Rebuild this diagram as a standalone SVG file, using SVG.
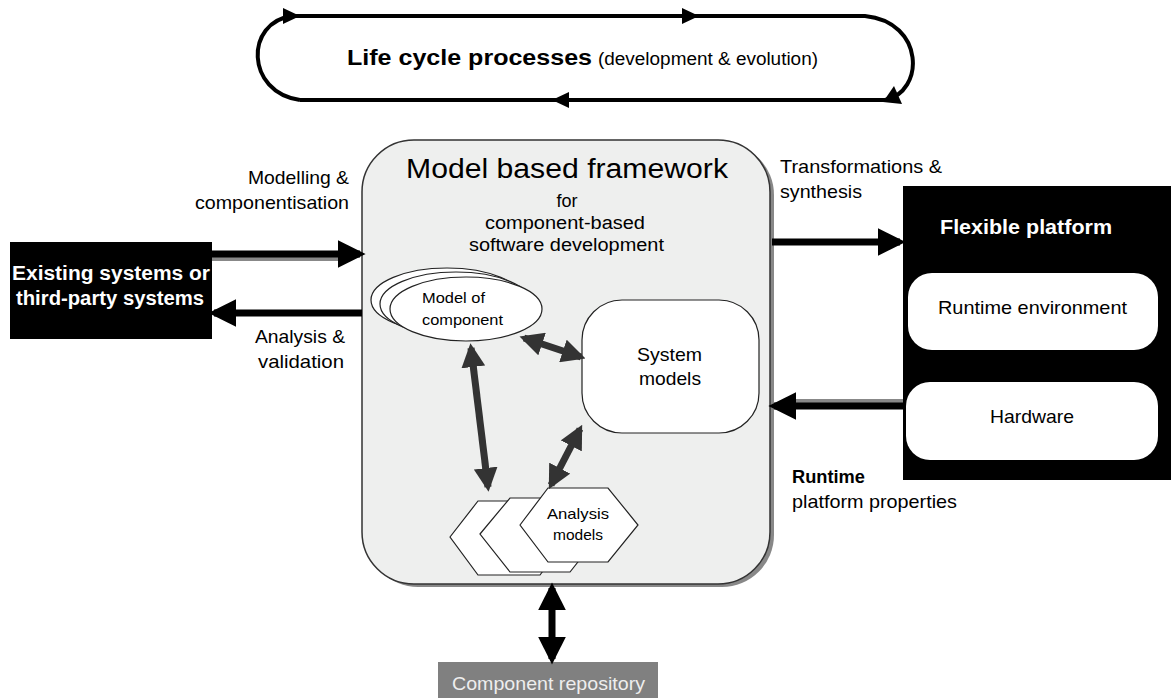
<svg xmlns="http://www.w3.org/2000/svg" width="1171" height="698" viewBox="0 0 1171 698">
<style>
text{font-family:"Liberation Sans",Arial,sans-serif;fill:#000}
.w{fill:#fff}
.lbl{font-size:18.5px}
.sm{font-size:15px}
.blk{fill:#000}
.wn{fill:#fff;stroke:#222;stroke-width:1.2}
.loop{fill:none;stroke:#000;stroke-width:4}
.thick{stroke:#000;stroke-width:7;fill:none}
.dbl{stroke:#333;stroke-width:7;fill:none}
</style>
<defs>
<marker id="ah" viewBox="0 0 10 10" refX="8" refY="5" markerWidth="4" markerHeight="4" orient="auto-start-reverse" markerUnits="strokeWidth"><path d="M0,0 L10,5 L0,10 z" fill="#000"/></marker>
<marker id="ahd" viewBox="0 0 10 10" refX="8" refY="5" markerWidth="3.4" markerHeight="3.4" orient="auto-start-reverse" markerUnits="strokeWidth"><path d="M0,0 L10,5 L0,10 z" fill="#333"/></marker>
</defs>

<g id="lifecycle">
<path class="loop" d="M300,100 C245,92 245,22 292,16"/>
<path class="loop" d="M292,16 L865,16 C925,22 925,92 885,100 L300,100"/>
<path d="M283,8 L300,16 L283,24 z" fill="#000"/>
<path d="M682,8 L699,16 L682,24 z" fill="#000"/>
<path d="M569,92 L552,100 L569,108 z" fill="#000"/>
<path d="M894,86 L883,102 L902,104 z" fill="#000"/>
<text x="347" y="65" font-size="22" font-weight="bold" textLength="245" lengthAdjust="spacingAndGlyphs">Life cycle processes</text>
<text x="598" y="65" font-size="18" textLength="220" lengthAdjust="spacingAndGlyphs">(development &amp; evolution)</text>
</g>

<g id="framework">
<rect x="366" y="143" width="408" height="444" rx="52" fill="#888"/>
<rect x="362" y="140" width="408" height="444" rx="52" fill="#eeefee" stroke="#333" stroke-width="1.5"/>
<text x="406" y="178" font-size="27" textLength="322" lengthAdjust="spacingAndGlyphs">Model based framework</text>
<text x="567" y="207" font-size="18" text-anchor="middle">for</text>
<text x="485" y="229" font-size="18" textLength="160" lengthAdjust="spacingAndGlyphs">component-based</text>
<text x="469" y="251" font-size="18" textLength="195" lengthAdjust="spacingAndGlyphs">software development</text>
</g>

<g id="existing">
<rect x="10" y="242" width="202" height="97" class="blk"/>
<text x="12" y="280" font-size="19.5" font-weight="bold" class="w" textLength="198" lengthAdjust="spacingAndGlyphs">Existing systems or</text>
<text x="16" y="305" font-size="19.5" font-weight="bold" class="w" textLength="188" lengthAdjust="spacingAndGlyphs">third-party systems</text>
</g>

<g id="platform">
<rect x="903" y="186" width="268" height="294" class="blk"/>
<text x="940" y="234" font-size="20" font-weight="bold" class="w" textLength="172" lengthAdjust="spacingAndGlyphs">Flexible platform</text>
<rect x="908" y="273" width="250" height="77" rx="24" fill="#fff"/>
<text x="938" y="314" font-size="19" textLength="189" lengthAdjust="spacingAndGlyphs">Runtime environment</text>
<rect x="906" y="382" width="252" height="78" rx="24" fill="#fff"/>
<text x="990" y="423" font-size="19" textLength="84" lengthAdjust="spacingAndGlyphs">Hardware</text>
</g>

<g id="model-of-component">
<ellipse cx="447" cy="300" rx="76" ry="32" class="wn"/>
<ellipse cx="456" cy="304" rx="76" ry="32" class="wn"/>
<ellipse cx="466" cy="309" rx="76" ry="32" class="wn"/>
<text x="422" y="303" class="sm" textLength="63" lengthAdjust="spacingAndGlyphs">Model of</text>
<text x="422" y="325" class="sm" textLength="81" lengthAdjust="spacingAndGlyphs">component</text>
</g>

<g id="system-models">
<rect x="582" y="300" width="177" height="133" rx="40" class="wn"/>
<text x="637" y="361" font-size="19" textLength="65" lengthAdjust="spacingAndGlyphs">System</text>
<text x="639" y="385" font-size="19" textLength="62" lengthAdjust="spacingAndGlyphs">models</text>
</g>

<g id="analysis-models">
<polygon points="450,537 478,501 540,501 568,537 540,575 478,575" class="wn"/>
<polygon points="480,534 510,498 570,498 600,534 570,572 510,572" class="wn"/>
<polygon points="520,525 548,488 608,488 638,525 608,562 548,562" class="wn"/>
<text x="547" y="519" class="sm" textLength="62" lengthAdjust="spacingAndGlyphs">Analysis</text>
<text x="553" y="540" class="sm" textLength="50" lengthAdjust="spacingAndGlyphs">models</text>
</g>

<g id="repository">
<rect x="438" y="662" width="220" height="36" fill="#808080"/>
<text x="452" y="690" font-size="19" style="fill:#eee" textLength="193" lengthAdjust="spacingAndGlyphs">Component repository</text>
</g>

<g id="connectors">
<line x1="212" y1="258" x2="340" y2="258" stroke="#888" stroke-width="6"/>
<line x1="212" y1="254" x2="360" y2="254" class="thick" marker-end="url(#ah)"/>
<line x1="362" y1="313" x2="214" y2="313" class="thick" marker-end="url(#ah)"/>
<line x1="772" y1="242" x2="900" y2="242" class="thick" marker-end="url(#ah)"/>
<line x1="903" y1="402" x2="795" y2="402" stroke="#888" stroke-width="6"/>
<line x1="903" y1="406" x2="774" y2="406" class="thick" marker-end="url(#ah)"/>
<line x1="552" y1="588" x2="552" y2="659" class="thick" marker-start="url(#ah)" marker-end="url(#ah)"/>
<line x1="524" y1="338" x2="581" y2="357" class="dbl" marker-start="url(#ahd)" marker-end="url(#ahd)"/>
<line x1="471" y1="348" x2="488" y2="487" class="dbl" marker-start="url(#ahd)" marker-end="url(#ahd)"/>
<line x1="580" y1="429" x2="551" y2="485" class="dbl" marker-start="url(#ahd)" marker-end="url(#ahd)"/>
</g>

<g id="labels">
<text x="248" y="184" class="lbl" textLength="101" lengthAdjust="spacingAndGlyphs">Modelling &amp;</text>
<text x="195" y="209" class="lbl" textLength="154" lengthAdjust="spacingAndGlyphs">componentisation</text>
<text x="255" y="343" class="lbl" textLength="90" lengthAdjust="spacingAndGlyphs">Analysis &amp;</text>
<text x="258" y="368" class="lbl" textLength="86" lengthAdjust="spacingAndGlyphs">validation</text>
<text x="780" y="173" class="lbl" textLength="162" lengthAdjust="spacingAndGlyphs">Transformations &amp;</text>
<text x="780" y="198" class="lbl" textLength="82" lengthAdjust="spacingAndGlyphs">synthesis</text>
<text x="792" y="483" class="lbl" font-weight="bold" textLength="73" lengthAdjust="spacingAndGlyphs">Runtime</text>
<text x="792" y="508" class="lbl" textLength="165" lengthAdjust="spacingAndGlyphs">platform properties</text>
</g>
</svg>
